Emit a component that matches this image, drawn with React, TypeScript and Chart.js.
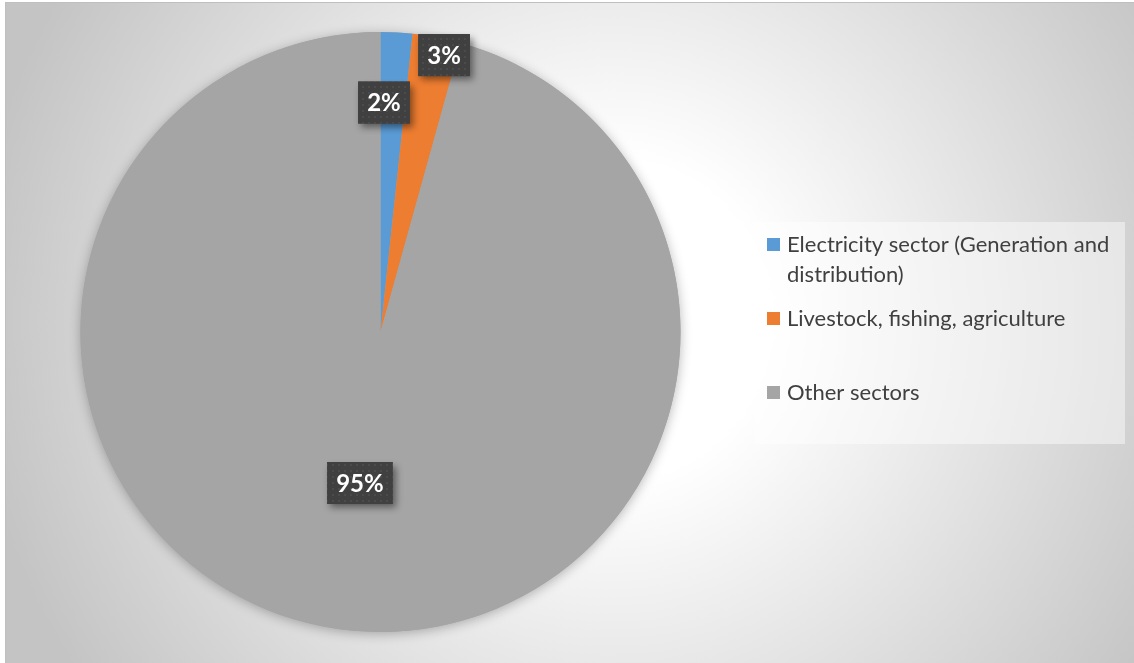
import React, { useEffect, useRef } from "react";
import { Chart, registerables } from "chart.js";
Chart.register(...registerables);

// ---- data ----
const CATEGORIES = [
  "Electricity sector (Generation and distribution)",
  "Livestock, fishing, agriculture",
  "Other sectors",
];
const SHARES = [1.7, 2.6, 95.4];
const COLORS = ["#5B9BD5", "#ED7D31", "#A5A5A5"];
const VALUE_LABELS = SHARES.map((v) => Math.round(v) + "%");

// ---- layout settings ----
const W = 1134;
const H = 663;
const LABEL_RADIAL = [0.765, 0.947, 0.508];
const LABEL_ANGLE_SHIFT = [-2.2, 2.1, 0];
const LEGEND_BOX = { x: 755, y: 222, w: 370, h: 222 };
const LEGEND_BASELINES = [252, 326, 400];
const LEGEND_TEXT_X = 787;
const LEGEND_LINE_H = 29.5;

function makePattern(ctx: CanvasRenderingContext2D) {
  const c = document.createElement("canvas");
  c.width = 6;
  c.height = 6;
  const p = c.getContext("2d")!;
  p.fillStyle = "#404040";
  p.fillRect(0, 0, 6, 6);
  p.fillStyle = "#4b4b4b";
  p.fillRect(2, 2, 2, 2);
  return ctx.createPattern(c, "repeat");
}

const backgroundPlugin = {
  id: "bg",
  beforeDraw(chart: any) {
    const ctx = chart.ctx as CanvasRenderingContext2D;
    ctx.save();
    ctx.fillStyle = "#ffffff";
    ctx.fillRect(0, 0, W, H);
    const g = ctx.createRadialGradient(610, 320, 160, 610, 320, 640);
    g.addColorStop(0, "#ffffff");
    g.addColorStop(1, "#c4c4c4");
    ctx.fillStyle = g;
    ctx.fillRect(5, 2, W - 5, H - 2);
    ctx.strokeStyle = "#bfbfbf";
    ctx.lineWidth = 1;
    ctx.strokeRect(5.5, 2.5, W, H);
    ctx.restore();
  },
  beforeDatasetsDraw(chart: any) {
    const ctx = chart.ctx as CanvasRenderingContext2D;
    const arc = chart.getDatasetMeta(0).data[0];
    if (!arc) return;
    const { x, y, outerRadius } = arc.getProps(["x", "y", "outerRadius"], true);
    ctx.save();
    ctx.shadowColor = "rgba(0,0,0,0.28)";
    ctx.shadowBlur = 12;
    ctx.shadowOffsetY = 2;
    ctx.beginPath();
    ctx.arc(x, y, outerRadius, 0, Math.PI * 2);
    ctx.fillStyle = COLORS[2];
    ctx.fill();
    ctx.restore();
  },
};

const labelPlugin = {
  id: "boxLabels",
  afterDatasetsDraw(chart: any) {
    const ctx = chart.ctx as CanvasRenderingContext2D;
    const meta = chart.getDatasetMeta(0);
    const pattern = makePattern(ctx);
    meta.data.forEach((arc: any, i: number) => {
      const { x, y, startAngle, endAngle, outerRadius } = arc.getProps(
        ["x", "y", "startAngle", "endAngle", "outerRadius"],
        true
      );
      const mid = (startAngle + endAngle) / 2 + (LABEL_ANGLE_SHIFT[i] * Math.PI) / 180;
      const r = outerRadius * LABEL_RADIAL[i];
      const cx = x + r * Math.cos(mid);
      const cy = y + r * Math.sin(mid);
      const text = VALUE_LABELS[i];
      ctx.save();
      ctx.font = "bold 24px Lato";
      const tw = ctx.measureText(text).width;
      const bw = tw + 18;
      const bh = 42;
      const bx = cx - bw / 2;
      const by = cy - bh / 2;
      ctx.shadowColor = "rgba(0,0,0,0.45)";
      ctx.shadowBlur = 7;
      ctx.shadowOffsetX = 3;
      ctx.shadowOffsetY = 4;
      ctx.fillStyle = "#404040";
      ctx.fillRect(bx, by, bw, bh);
      ctx.shadowColor = "transparent";
      if (pattern) {
        ctx.fillStyle = pattern;
        ctx.fillRect(bx, by, bw, bh);
      }
      ctx.fillStyle = "#ffffff";
      ctx.textAlign = "center";
      ctx.textBaseline = "middle";
      ctx.fillText(text, cx, cy + 1);
      ctx.restore();
    });
  },
};

function wrap(ctx: CanvasRenderingContext2D, text: string, maxW: number) {
  const words = text.split(" ");
  const lines: string[] = [];
  let cur = "";
  for (const w of words) {
    const t = cur ? cur + " " + w : w;
    if (ctx.measureText(t).width > maxW && cur) {
      lines.push(cur);
      cur = w;
    } else cur = t;
  }
  if (cur) lines.push(cur);
  return lines;
}

const legendPlugin = {
  id: "customLegend",
  afterDraw(chart: any) {
    const ctx = chart.ctx as CanvasRenderingContext2D;
    ctx.save();
    ctx.fillStyle = "rgba(255,255,255,0.45)";
    ctx.fillRect(LEGEND_BOX.x, LEGEND_BOX.y, LEGEND_BOX.w, LEGEND_BOX.h);
    ctx.font = "22px Lato";
    ctx.textBaseline = "alphabetic";
    ctx.textAlign = "left";
    const labels: string[] = chart.data.labels;
    const colors: string[] = chart.data.datasets[0].backgroundColor;
    labels.forEach((lab, i) => {
      const base = LEGEND_BASELINES[i];
      ctx.fillStyle = colors[i];
      ctx.fillRect(767, base - 14, 13, 13);
      ctx.fillStyle = "#404040";
      const lines = wrap(ctx, lab, LEGEND_BOX.x + LEGEND_BOX.w - LEGEND_TEXT_X - 4);
      lines.forEach((ln, j) => ctx.fillText(ln, LEGEND_TEXT_X, base + j * LEGEND_LINE_H));
    });
    ctx.restore();
  },
};

export default function App() {
  const ref = useRef<HTMLCanvasElement | null>(null);
  useEffect(() => {
    if (!ref.current) return;
    const chart = new Chart(ref.current, {
      type: "pie",
      data: {
        labels: CATEGORIES,
        datasets: [
          {
            data: SHARES,
            backgroundColor: COLORS,
            borderWidth: 0,
            hoverOffset: 0,
            offset: 0,
          },
        ],
      },
      options: {
        responsive: false,
        animation: false,
        events: [],
        layout: { padding: { left: 80.5, right: 453.5, top: 32, bottom: 31 } },
        plugins: {
          legend: { display: false },
          tooltip: { enabled: false },
          title: { display: false },
        },
      },
      plugins: [backgroundPlugin, labelPlugin, legendPlugin],
    });
    return () => chart.destroy();
  }, []);
  return (
    <div style={{ position: "fixed", left: 0, top: 0, width: W, height: H, background: "#fff" }}>
      <canvas ref={ref} width={W} height={H} style={{ display: "block", width: W, height: H }} />
    </div>
  );
}
